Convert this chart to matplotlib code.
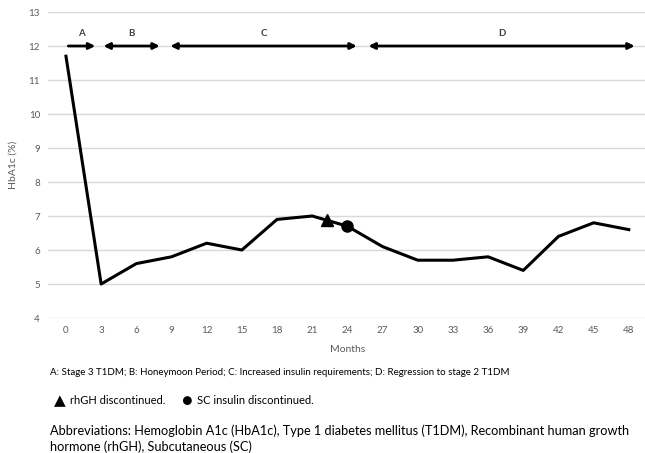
import matplotlib
matplotlib.use('Agg')
from matplotlib import pyplot as plt

plt.rcParams['font.family'] = ['Lato', 'DejaVu Sans']

# HbA1c over time
months = [0, 3, 6, 9, 12, 15, 18, 21, 24, 27, 30, 33, 36, 39, 42, 45, 48]
hba1c = [11.7, 5.0, 5.6, 5.8, 6.2, 6.0, 6.9, 7.0, 6.7, 6.1, 5.7, 5.7, 5.8, 5.4, 6.4, 6.8, 6.6]

# events
rhgh_stop = (22.3, 6.88)
insulin_stop = (24.0, 6.7)

# phase arrows: label, start, end, double headed
phases = ['A', 'B', 'C', 'D']
phase_start = [0.2, 3.2, 8.9, 25.8]
phase_end = [2.5, 8.0, 24.8, 48.5]
phase_double = [False, True, True, True]

fig = plt.figure(figsize=(6.45, 4.53), dpi=100)
ax = fig.add_axes([0.075, 0.298, 0.929, 0.6755])

ax.plot(months, hba1c, color='black', lw=2.2, zorder=3)
ax.plot(*rhgh_stop, marker='^', color='black', markersize=9, zorder=4)
ax.plot(*insulin_stop, marker='o', color='black', markersize=8, zorder=4)

for lab, s, e, dbl in zip(phases, phase_start, phase_end, phase_double):
    style = '<|-|>' if dbl else '-|>'
    ax.annotate('', xy=(e, 12), xytext=(s, 12),
                arrowprops=dict(arrowstyle=style, color='black', lw=2,
                                mutation_scale=9, shrinkA=0, shrinkB=0), zorder=5)
    ax.text((s + e) / 2, 12.38, lab, ha='center', va='center', fontsize=7,
            fontweight='bold', color='#404040')

ax.set_xlim(-1.5, 49.6)
ax.set_ylim(4, 13)
ax.set_xticks(months)
ax.set_yticks(range(4, 14))
ax.tick_params(length=0, labelsize=7, labelcolor='#595959', pad=6)
ax.grid(axis='y', color='#d9d9d9', lw=1)
ax.set_axisbelow(True)
for sp in ax.spines.values():
    sp.set_visible(False)
ax.set_ylabel('HbA1c (%)', fontsize=7.5, color='#595959', labelpad=8)
ax.set_xlabel('Months', fontsize=7.5, color='#595959', labelpad=7)

fig.text(0.078, 0.177, 'A: Stage 3 T1DM; B: Honeymoon Period; C: Increased insulin requirements; D: Regression to stage 2 T1DM',
         fontsize=7.0, va='center')
fig.text(0.083, 0.115, '\u25B2', fontsize=11, va='center')
fig.text(0.108, 0.115, 'rhGH discontinued.', fontsize=8, va='center')
fig.text(0.282, 0.115, '\u25CF', fontsize=13, va='center')
fig.text(0.305, 0.115, 'SC insulin discontinued.', fontsize=8, va='center')
fig.text(0.078, 0.032, 'Abbreviations: Hemoglobin A1c (HbA1c), Type 1 diabetes mellitus (T1DM), Recombinant human growth\nhormone (rhGH), Subcutaneous (SC)',
         fontsize=9.2, va='center', linespacing=1.3)

fig.savefig('out.png', dpi=100, facecolor='white')
